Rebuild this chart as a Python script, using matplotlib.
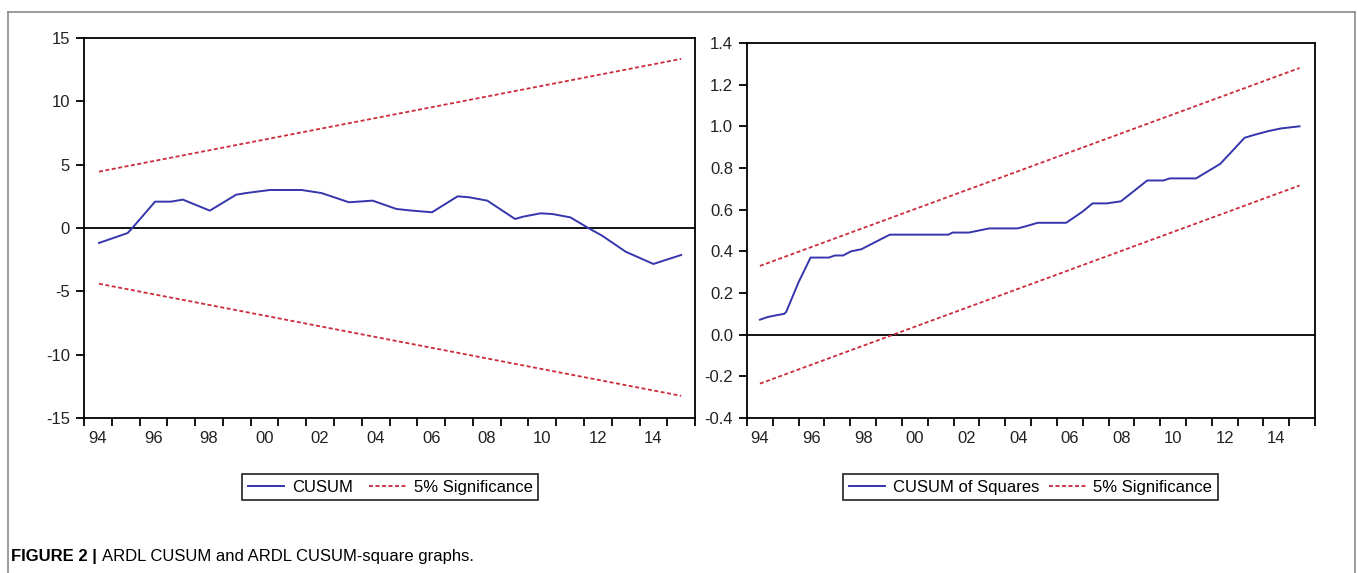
import matplotlib as mpl
import matplotlib.pyplot as plt
from matplotlib.lines import Line2D

cusum_x = [1994.54, 1995.57, 1995.7, 1996.56, 1997.13, 1997.56, 1998.53, 1999.48, 1999.84,
           2000.69, 2001.83, 2002.55, 2003.54, 2004.39, 2005.25, 2005.82, 2006.53, 2007.45,
           2007.88, 2008.52, 2009.52, 2009.8, 2010.44, 2010.87, 2011.51, 2012.22, 2012.65,
           2013.5, 2014.5, 2015.5]
cusum_y = [-1.18, -0.4, -0.1, 2.08, 2.08, 2.24, 1.37, 2.63, 2.76,
           3.0, 3.0, 2.76, 2.03, 2.16, 1.5, 1.37, 1.24, 2.5,
           2.42, 2.16, 0.71, 0.89, 1.16, 1.1, 0.84, -0.08, -0.6,
           -1.87, -2.84, -2.13]
cusum_band_x = [1994.54, 2015.5]
cusum_upper = [4.45, 13.35]
cusum_lower = [-4.4, -13.25]

# CUSUM of squares (right panel)
cusumsq_x = [1994.5, 1994.81, 1995.13, 1995.44, 1995.52, 1995.99, 1996.46, 1997.17, 1997.4,
             1997.72, 1998.03, 1998.43, 1998.74, 1999.53, 2001.8, 2001.96, 2002.59, 2003.38,
             2004.48, 2004.79, 2005.26, 2006.36, 2006.99, 2007.38, 2007.93, 2008.48, 2009.5,
             2010.13, 2010.37, 2011.39, 2012.33, 2013.27, 2013.59, 2014.22, 2014.69, 2015.4]
cusumsq_y = [0.072, 0.085, 0.093, 0.10, 0.11, 0.25, 0.37, 0.37, 0.38,
             0.38, 0.40, 0.41, 0.43, 0.48, 0.48, 0.49, 0.49, 0.51,
             0.51, 0.52, 0.537, 0.537, 0.59, 0.63, 0.63, 0.64, 0.74,
             0.74, 0.75, 0.75, 0.82, 0.945, 0.957, 0.978, 0.99, 1.0]
cusumsq_band_x = [1994.5, 2015.4]
cusumsq_upper = [0.33, 1.28]
cusumsq_lower = [-0.235, 0.716]

year_ticks = list(range(1994, 2017))
label_pos = [y + 0.5 for y in range(1994, 2015, 2)]
year_labels = ["94", "96", "98", "00", "02", "04", "06", "08", "10", "12", "14"]

BLUE = "#3535ad"
RED = "#cc2b3b"


def style_axes(ax, ylim, yticks, yfmt):
    ax.set_xlim(1994, 2016)
    ax.set_ylim(*ylim)
    ax.set_xticks(year_ticks)
    ax.set_xticklabels([])
    ax.set_xticks(label_pos, minor=True)
    ax.set_xticklabels(year_labels, minor=True)
    ax.tick_params(axis="x", which="major", direction="out", length=6, width=1.3)
    ax.tick_params(axis="x", which="minor", length=0, pad=9, labelsize=12, labelcolor="#222222")
    ax.set_yticks(yticks)
    ax.set_yticklabels([yfmt.format(v) for v in yticks])
    ax.tick_params(axis="y", direction="out", length=6, width=1.3, labelsize=12, pad=4,
                   labelcolor="#222222")
    for sp in ax.spines.values():
        sp.set_linewidth(1.3)
    ax.axhline(0, color="black", lw=1.3, zorder=1)


if __name__ == '__main__':
    mpl.rcParams['font.family'] = ['Liberation Sans', 'DejaVu Sans']

    fig = plt.figure(figsize=(13.57, 5.73), dpi=100)
    ax1 = fig.add_axes([0.0619, 0.2705, 0.4503, 0.6632])
    ax2 = fig.add_axes([0.5505, 0.2705, 0.4186, 0.6545])

    dash = (0, (2.2, 1.4))

    ax1.plot(cusum_x, cusum_y, color=BLUE, lw=1.4, label="CUSUM", zorder=3)
    ax1.plot(cusum_band_x, cusum_upper, color=RED, lw=1.3, ls=dash, label="5% Significance", zorder=2)
    ax1.plot(cusum_band_x, cusum_lower, color=RED, lw=1.3, ls=dash, zorder=2)
    style_axes(ax1, (-15, 15), [-15, -10, -5, 0, 5, 10, 15], "{:d}")

    ax2.plot(cusumsq_x, cusumsq_y, color=BLUE, lw=1.4, label="CUSUM of Squares", zorder=3)
    ax2.plot(cusumsq_band_x, cusumsq_upper, color=RED, lw=1.3, ls=dash, label="5% Significance", zorder=2)
    ax2.plot(cusumsq_band_x, cusumsq_lower, color=RED, lw=1.3, ls=dash, zorder=2)
    style_axes(ax2, (-0.4, 1.4), [-0.4, -0.2, 0.0, 0.2, 0.4, 0.6, 0.8, 1.0, 1.2, 1.4], "{:.1f}")

    for ax, cx, cs in ((ax1, 0.2874, 1.0), (ax2, 0.7594, 0.6)):
        leg = ax.legend(loc="center", bbox_to_anchor=(cx, 0.15), bbox_transform=fig.transFigure,
                        ncol=2, fontsize=12, frameon=True, fancybox=False, handlelength=2.2,
                        columnspacing=cs, handletextpad=0.45, borderpad=0.35)
        leg.get_frame().set_edgecolor("black")
        leg.get_frame().set_linewidth(1.3)

    # outer frame of the figure panel
    W, H = 1357, 573
    fx0, fx1, fy1 = 8 / W, 1355 / W, 1 - 12 / H
    for xs, ys in (([fx0, fx0], [0, fy1]), ([fx0, fx1], [fy1, fy1]), ([fx1, fx1], [fy1, 0])):
        fig.add_artist(Line2D(xs, ys, color="#8a8a8a", lw=1.2, transform=fig.transFigure))

    fig.canvas.draw()
    t1 = fig.text(11 / W, 1 - 556 / H, "FIGURE 2 | ", fontsize=12, fontweight="bold", va="center")
    bb = t1.get_window_extent(renderer=fig.canvas.get_renderer())
    fig.text(bb.x1 / W, 1 - 556 / H, "ARDL CUSUM and ARDL CUSUM-square graphs.", fontsize=12,
             va="center")

    plt.savefig("out.png", dpi=100)
    plt.close()
